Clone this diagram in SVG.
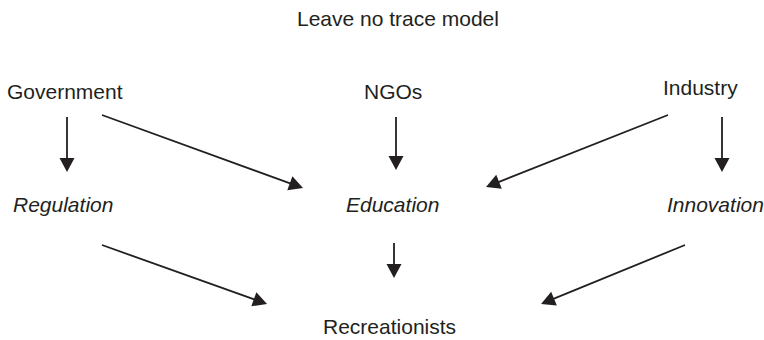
<svg xmlns="http://www.w3.org/2000/svg" width="764" height="340" viewBox="0 0 764 340">
<style>
text{font-family:"Liberation Sans",Arial,Helvetica,sans-serif;font-size:21px;fill:#231f20}
.it{font-style:italic}
.c line{stroke:#231f20;stroke-width:1.8;fill:none}
</style>
<defs>
<marker id="ah" markerUnits="userSpaceOnUse" markerWidth="14" markerHeight="15" refX="4" refY="7.5" orient="auto" overflow="visible">
<path d="M0,0 L14,7.5 L0,15 z" fill="#231f20"/>
</marker>
</defs>
<rect width="764" height="340" fill="#fff"/>
<g id="title"><text x="297" y="26">Leave no trace model</text></g>
<g id="government"><text x="7" y="99">Government</text></g>
<g id="ngos"><text x="364" y="99">NGOs</text></g>
<g id="industry"><text x="663" y="95">Industry</text></g>
<g id="regulation"><text class="it" x="13" y="212">Regulation</text></g>
<g id="education"><text class="it" x="346" y="212">Education</text></g>
<g id="innovation"><text class="it" x="667" y="212">Innovation</text></g>
<g id="recreationists"><text x="323" y="334">Recreationists</text></g>
<g class="c" id="connectors">
<line x1="67" y1="117" x2="67" y2="162" marker-end="url(#ah)"/>
<line x1="102" y1="115" x2="293.6" y2="184.6" marker-end="url(#ah)"/>
<line x1="396" y1="117" x2="396" y2="160" marker-end="url(#ah)"/>
<line x1="668" y1="115" x2="495.3" y2="183.3" marker-end="url(#ah)"/>
<line x1="722" y1="117" x2="722" y2="162" marker-end="url(#ah)"/>
<line x1="102" y1="245" x2="257.6" y2="300.6" marker-end="url(#ah)"/>
<line x1="394" y1="243" x2="394" y2="268" marker-end="url(#ah)"/>
<line x1="685" y1="245" x2="550.3" y2="300.2" marker-end="url(#ah)"/>
</g>
</svg>
